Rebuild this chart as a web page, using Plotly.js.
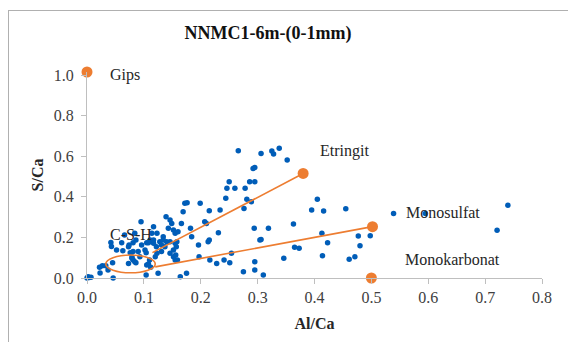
<!DOCTYPE html>
<html>
<head>
<meta charset="utf-8">
<script src="https://cdn.plot.ly/plotly-3.0.1.min.js"></script>
<style>
html,body{margin:0;padding:0;width:568px;height:342px;overflow:hidden;background:#fff;}
#chart{position:absolute;left:0;top:0;width:568px;height:342px;}
#frame{position:absolute;left:8px;top:10px;width:700px;height:500px;border-left:1px solid #b0b0b0;border-top:1px solid #b0b0b0;pointer-events:none;background:transparent;}
#chart text{font-family:"Liberation Serif", serif !important;}
</style>
</head>
<body>
<div id="chart"></div>
<div id="frame"></div>
<script>
// Measured points: Al/Ca and S/Ca
const alCa = [0.000,0.004,0.007,0.002,0.023,0.022,0.027,0.033,0.037,0.046,0.045,0.043,0.042,0.052,0.061,0.063,0.066,0.073,0.076,0.081,0.084,0.086,0.073,0.079,0.081,0.086,0.090,0.093,0.095,0.074,0.081,0.084,0.096,0.102,0.104,0.105,0.111,0.117,0.114,0.117,0.105,0.110,0.104,0.125,0.122,0.128,0.131,0.137,0.140,0.139,0.146,0.149,0.152,0.155,0.158,0.157,0.146,0.152,0.159,0.134,0.123,0.120,0.123,0.166,0.169,0.172,0.176,0.182,0.184,0.196,0.197,0.199,0.207,0.210,0.213,0.215,0.216,0.228,0.215,0.231,0.234,0.241,0.251,0.244,0.246,0.250,0.254,0.260,0.266,0.275,0.276,0.278,0.281,0.286,0.289,0.292,0.295,0.295,0.294,0.295,0.295,0.304,0.306,0.310,0.319,0.164,0.175,0.338,0.325,0.328,0.352,0.363,0.405,0.395,0.416,0.455,0.413,0.423,0.365,0.373,0.346,0.414,0.477,0.498,0.480,0.461,0.471,0.539,0.595,0.740,0.721,0.143,0.160,0.134,0.131,0.146,0.155,0.152,0.156,0.155,0.108,0.117,0.079,0.108,0.112,0.306];
const sCa  = [0.000,0.002,0.004,0.006,0.025,0.053,0.060,0.060,0.040,0.000,0.075,0.155,0.175,0.138,0.174,0.134,0.212,0.154,0.125,0.174,0.220,0.187,0.072,0.097,0.089,0.075,0.130,0.105,0.277,0.163,0.130,0.080,0.163,0.138,0.125,0.174,0.187,0.171,0.220,0.253,0.064,0.089,0.015,0.023,0.154,0.179,0.130,0.154,0.179,0.302,0.286,0.269,0.236,0.220,0.179,0.154,0.122,0.105,0.089,0.203,0.220,0.105,0.122,0.269,0.327,0.368,0.371,0.245,0.203,0.163,0.105,0.368,0.277,0.269,0.179,0.187,0.089,0.072,0.331,0.223,0.335,0.089,0.075,0.393,0.442,0.474,0.122,0.442,0.627,0.031,0.343,0.442,0.388,0.474,0.376,0.540,0.545,0.474,0.245,0.039,0.080,0.187,0.614,0.015,0.245,0.006,0.023,0.639,0.626,0.611,0.581,0.266,0.388,0.335,0.330,0.341,0.220,0.174,0.151,0.146,0.097,0.110,0.207,0.208,0.159,0.092,0.105,0.318,0.318,0.358,0.235,0.245,0.228,0.187,0.163,0.179,0.171,0.138,0.113,0.089,0.174,0.187,0.105,0.069,0.053,0.190];

// Reference phases
const phaseNames = ["Gips","Etringit","Monosulfat","Monokarbonat","C-S-H"];
const phaseAl = [0.000,0.380,0.502,0.500];
const phaseS  = [1.015,0.515,0.253,0.000];

// Trend lines from the C-S-H region
const lineEtrX = [0.115,0.380];
const lineEtrY = [0.125,0.515];
const lineMonoX = [0.120,0.502];
const lineMonoY = [0.055,0.253];
// C-S-H ellipse bounds
const cshX = [0.033,0.120];
const cshY = [0.026,0.113];

const xTicks = [0,0.1,0.2,0.3,0.4,0.5,0.6,0.7,0.8];
const yTicks = [0,0.2,0.4,0.6,0.8,1.0];

const orange = "#ED7D31";
const blue = "#005DB8";
const font = "Liberation Serif";

const traces = [
  {x: alCa, y: sCa, type:"scatter", mode:"markers", marker:{color:blue, size:5.5}, cliponaxis:false},
  {x: lineEtrX, y: lineEtrY, type:"scatter", mode:"lines", line:{color:orange, width:1.6}, cliponaxis:false},
  {x: lineMonoX, y: lineMonoY, type:"scatter", mode:"lines", line:{color:orange, width:1.6}, cliponaxis:false},
  {x: phaseAl, y: phaseS, type:"scatter", mode:"markers", marker:{color:orange, size:11}, cliponaxis:false}
];

const annPos = [
  {x:0.037, y:1.0},
  {x:0.406, y:0.626},
  {x:0.557, y:0.325},
  {x:0.555, y:0.089},
  {x:0.037, y:0.212}
];

const layout = {
  width:568, height:342,
  margin:{l:87, r:26, t:72, b:64},
  paper_bgcolor:"#fff", plot_bgcolor:"rgba(0,0,0,0)",
  showlegend:false,
  font:{family:font, color:"#404040", size:16},
  title:{text:"<b>NNMC1-6m-(0-1mm)</b>", font:{family:font, size:18, color:"#111"}, x:268/568, xanchor:"center", xref:"container", y:1-33/342, yanchor:"middle", yref:"container"},
  xaxis:{range:[0,0.8], tickvals:xTicks, ticktext:xTicks.map(v=>v.toFixed(1)), showgrid:false, zeroline:false, showline:true, linecolor:"#bfbfbf", linewidth:1, ticks:"outside", ticklen:5, tickcolor:"#bfbfbf", tickfont:{family:font, size:16, color:"#404040"},
    title:{text:"<b>Al/Ca</b>", font:{family:font, size:16, color:"#262626"}, standoff:12}},
  yaxis:{range:[0,1.015], tickvals:yTicks, ticktext:yTicks.map(v=>v.toFixed(1)), showgrid:false, zeroline:false, showline:true, linecolor:"#bfbfbf", linewidth:1, ticks:"outside", ticklen:5, tickcolor:"#bfbfbf", ticklabelstandoff:4, tickfont:{family:font, size:16, color:"#404040"},
    title:{text:"<b>S/Ca</b>", font:{family:font, size:16, color:"#262626"}, standoff:6}},
  shapes:[{type:"circle", xref:"x", yref:"y", x0:cshX[0], x1:cshX[1], y0:cshY[0], y1:cshY[1], line:{color:orange, width:1.6}}],
  annotations: phaseNames.map((n,i)=>({text:n, x:annPos[i].x, y:annPos[i].y, xref:"x", yref:"y", xanchor:"left", yanchor:"middle", showarrow:false, font:{family:font, size:16, color:"#262626"}}))
};

Plotly.newPlot("chart", traces, layout, {displayModeBar:false, staticPlot:true});
</script>
</body>
</html>
